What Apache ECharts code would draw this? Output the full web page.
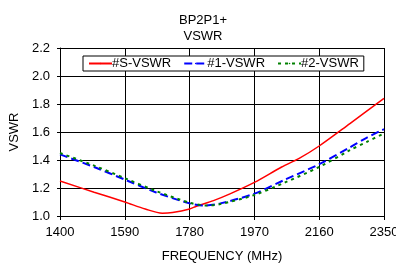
<!DOCTYPE html>
<html>
<head>
<meta charset="utf-8">
<script src="https://cdn.jsdelivr.net/npm/echarts@6/dist/echarts.min.js"></script>
<style>
  html, body { margin: 0; padding: 0; background: #fff; }
  #chart { width: 396px; height: 263px; }
</style>
</head>
<body>
<div id="chart"></div>
<script>
// frequency (MHz) and VSWR readings per port
const sFreq = [1400, 1500, 1590, 1650, 1700, 1730, 1780, 1800, 1850, 1900, 1970, 2050, 2100, 2160, 2250, 2350]
const sVswr = [1.25, 1.17, 1.10, 1.05, 1.02, 1.025, 1.05, 1.07, 1.11, 1.16, 1.24, 1.35, 1.41, 1.50, 1.66, 1.84]

const p1Freq = [1400, 1500, 1590, 1680, 1780, 1820, 1870, 1970, 2060, 2160, 2250, 2300, 2350]
const p1Vswr = [1.44, 1.35, 1.26, 1.17, 1.09, 1.075, 1.09, 1.16, 1.26, 1.37, 1.49, 1.56, 1.62]

const p2Freq = [1400, 1500, 1590, 1680, 1780, 1830, 1870, 1970, 2060, 2160, 2250, 2300, 2350]
const p2Vswr = [1.45, 1.36, 1.27, 1.18, 1.095, 1.075, 1.085, 1.15, 1.24, 1.35, 1.47, 1.53, 1.59]

const seriesNames = ['#S-VSWR', '#1-VSWR', '#2-VSWR']

const zip = (xs, ys) => xs.map((x, i) => [x, ys[i]])

const font = 'Liberation Sans, Arial, sans-serif'
const chart = echarts.init(document.getElementById('chart'))

chart.setOption({
  animation: false,
  backgroundColor: '#fff',
  title: {
    text: 'BP2P1+\nVSWR',
    left: 198,
    textAlign: 'center',
    top: 7,
    textStyle: { fontFamily: font, fontSize: 13, fontWeight: 'normal', color: '#000', lineHeight: 16 },
  },
  legend: {
    data: seriesNames,
    top: 56,
    left: 83,
    itemWidth: 23,
    itemHeight: 2,
    itemGap: 12,
    padding: [1, 5],
    borderColor: '#000',
    borderWidth: 1,
    backgroundColor: '#fff',
    textStyle: { fontFamily: font, fontSize: 13, color: '#000', padding: [0, 0, 0, -5] },
  },
  grid: { left: 60, right: 12, top: 48, bottom: 47, containLabel: false, outerBoundsMode: 'none' },
  xAxis: {
    type: 'value',
    min: 1400,
    max: 2350,
    interval: 190,
    name: 'FREQUENCY (MHz)',
    nameLocation: 'middle',
    nameGap: 34,
    nameTextStyle: { fontFamily: font, fontSize: 13, color: '#000' },
    axisLine: { lineStyle: { color: '#000', width: 1 } },
    axisTick: { show: true, length: 4, lineStyle: { color: '#000' } },
    axisLabel: { fontFamily: font, fontSize: 13, color: '#000', margin: 10, formatter: v => String(v) },
    splitLine: { show: true, lineStyle: { color: '#000', width: 1 } },
  },
  yAxis: {
    type: 'value',
    min: 1.0,
    max: 2.2,
    interval: 0.2,
    name: 'VSWR',
    nameLocation: 'middle',
    nameGap: 33,
    nameTextStyle: { fontFamily: font, fontSize: 13, color: '#000' },
    axisLine: { show: true, lineStyle: { color: '#000', width: 1 } },
    axisTick: { show: true, length: 3, lineStyle: { color: '#000' } },
    axisLabel: { fontFamily: font, fontSize: 13, color: '#000', margin: 10, formatter: v => v.toFixed(1) },
    splitLine: { show: true, lineStyle: { color: '#000', width: 1 } },
  },
  series: [
    {
      name: seriesNames[0],
      type: 'line',
      data: zip(sFreq, sVswr),
      smooth: 0.3,
      symbol: 'none',
      lineStyle: { color: '#ff0000', width: 1.5 },
      itemStyle: { color: '#ff0000' },
    },
    {
      name: seriesNames[1],
      type: 'line',
      data: zip(p1Freq, p1Vswr),
      smooth: 0.3,
      symbol: 'none',
      lineStyle: { color: '#0000ff', width: 2, type: [8, 4] },
      itemStyle: { color: '#0000ff' },
    },
    {
      name: seriesNames[2],
      type: 'line',
      data: zip(p2Freq, p2Vswr),
      smooth: 0.3,
      symbol: 'none',
      lineStyle: { color: '#008000', width: 2, type: [3, 4] },
      itemStyle: { color: '#008000' },
    },
  ],
})
</script>
</body>
</html>
